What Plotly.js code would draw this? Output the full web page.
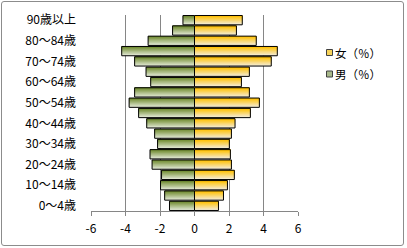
<!DOCTYPE html>
<html><head><meta charset="utf-8">
<script src="https://cdn.plot.ly/plotly-3.0.1.min.js"></script>
<style>
html,body{margin:0;padding:0;background:#fff;}
#wrap{position:relative;width:407px;height:248px;overflow:hidden;}
#chart{width:407px;height:248px;}
#frame{position:absolute;left:1px;top:1px;width:401px;height:243px;border:1px solid #8c8c8c;border-radius:3px;pointer-events:none;}
</style></head><body>
<div id="wrap"><div id="chart"></div><div id="frame"></div></div>
<script>
// ---- data (bottom to top) ----
const ageGroups = ['0～4歳','5～9歳','10～14歳','15～19歳','20～24歳','25～29歳','30～34歳','35～39歳','40～44歳','45～49歳','50～54歳','55～59歳','60～64歳','65～69歳','70～74歳','75～79歳','80～84歳','85～89歳','90歳以上'];
const female = [1.39,1.68,1.91,2.31,2.14,2.08,2.02,2.14,2.35,3.24,3.76,3.18,2.72,3.18,4.45,4.80,3.58,2.43,2.77];
const male = [-1.45,-1.73,-1.97,-1.91,-2.46,-2.58,-2.14,-2.31,-2.77,-3.24,-3.79,-3.47,-2.54,-2.81,-3.47,-4.22,-2.69,-1.27,-0.67];
const shownAgeLabels = ['0～4歳','10～14歳','20～24歳','30～34歳','40～44歳','50～54歳','60～64歳','70～74歳','80～84歳','90歳以上'];
const xTickVals = [-6,-4,-2,0,2,4,6];
const xTickText = ['-6','-4','-2','0','2','4','6'];
const seriesNames = ['女（％）','男（％）'];

// ---- styling ----
const FONT = '"Noto Sans CJK JP", "Noto Sans", sans-serif';
const W = 0.9;          // bar thickness in category units
const N = 10;           // gradient layers
const femaleTop = [255,192,0], femaleBottom = [244,236,214];
const maleTop = [110,138,46], maleBottom = [226,232,212];

function mix(a,b,t){return 'rgb('+a.map((v,i)=>Math.round(v+(b[i]-v)*t)).join(',')+')';}

const traces = [];
function addSeries(values, topC, botC){
  // layers: lightest (bottom colour) full thickness, darker layers cover the upper part
  for(let i=0;i<N;i++){
    const h = W - i*W/N;
    traces.push({
      type:'bar', orientation:'h', y:ageGroups, x:values,
      width:h, offset:W/2 - h,
      marker:{color:mix(botC, topC, i/(N-1)), line:{width:0}},
      hoverinfo:'skip', showlegend:false
    });
  }
  traces.push({
    type:'bar', orientation:'h', y:ageGroups, x:values,
    width:W, offset:-W/2,
    marker:{color:'rgba(0,0,0,0)', line:{color:'#000', width:1}},
    hoverinfo:'skip', showlegend:false
  });
}
addSeries(female, femaleTop, femaleBottom);
addSeries(male, maleTop, maleBottom);

// manual legend (pixel -> paper helpers)
const L=91, R=298, T=15, B=211;
const px = v => (v-L)/(R-L);
const py = v => (B-v)/(B-T);
const legendRows = [52.5, 74];
const legendFill = ['#F7D35A','#A9B98A'];
const shapes = [], annotations = [];
seriesNames.forEach((name,k)=>{
  const cy = legendRows[k];
  shapes.push({type:'rect', xref:'paper', yref:'paper', x0:px(326.5), x1:px(332.5), y0:py(cy+3), y1:py(cy-3),
    fillcolor:legendFill[k], line:{color:'#404040', width:1}});
  annotations.push({xref:'paper', yref:'paper', x:px(333), y:py(cy), xanchor:'left', yanchor:'middle',
    text:name, showarrow:false, font:{family:FONT, size:11.5, color:'#000'}});
});

const layout = {
  width:407, height:248,
  margin:{l:L, r:407-R, t:T, b:248-B, pad:0},
  paper_bgcolor:'#fff', plot_bgcolor:'#fff',
  barmode:'overlay', showlegend:false,
  font:{family:FONT, size:12, color:'#000'},
  xaxis:{range:[-6,6], tickmode:'array', tickvals:xTickVals, ticktext:xTickText,
    showgrid:true, gridcolor:'#868686', gridwidth:1,
    zeroline:true, zerolinecolor:'#868686', zerolinewidth:1,
    showline:true, linecolor:'#868686', linewidth:1,
    ticks:'outside', ticklen:4, tickcolor:'#868686', tickwidth:1,
    ticklabelstandoff:3,
    tickfont:{family:FONT, size:12, color:'#000'}, fixedrange:true},
  yaxis:{type:'category', categoryorder:'array', categoryarray:ageGroups,
    range:[-0.5, ageGroups.length-0.5], tickmode:'array', tickvals:shownAgeLabels,
    showgrid:false, zeroline:false, showline:false, ticks:'',
    ticklabelstandoff:14, tickfont:{family:FONT, size:12, color:'#000'}, fixedrange:true},
  shapes:shapes, annotations:annotations
};
Plotly.newPlot('chart', traces, layout, {staticPlot:true, displayModeBar:false});
</script>
</body></html>
